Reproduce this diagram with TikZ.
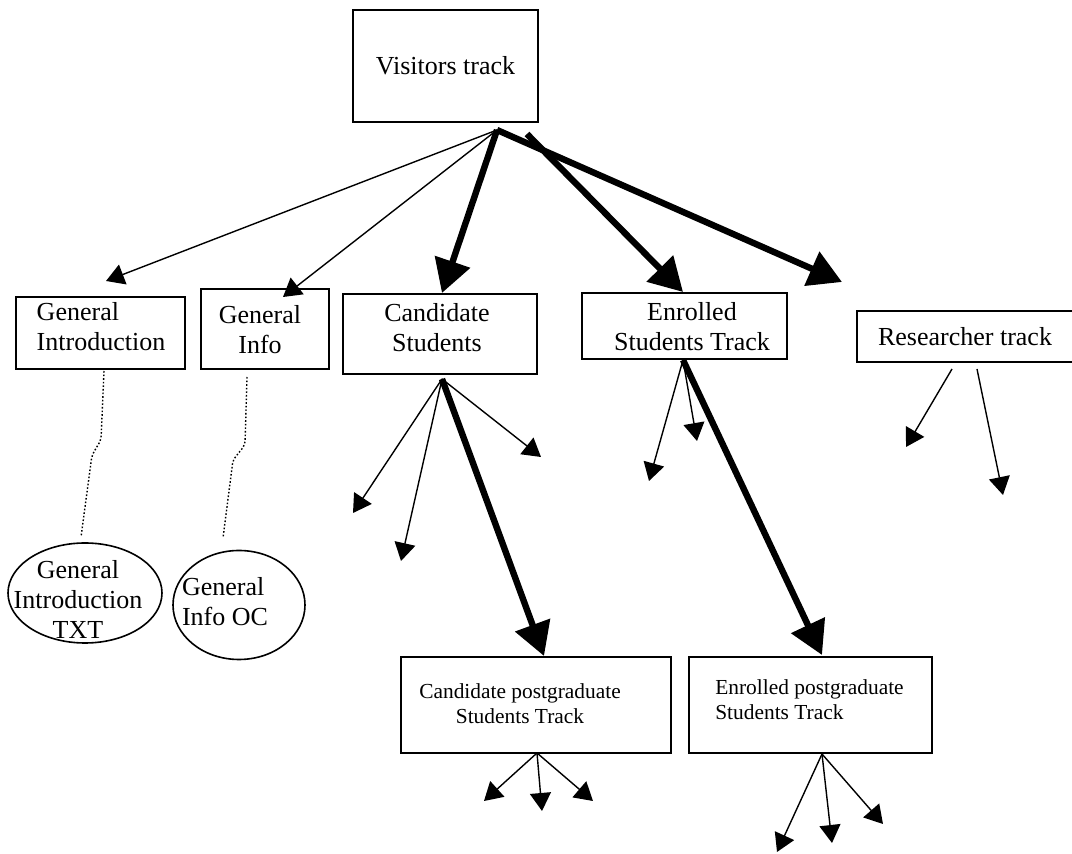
\documentclass[tikz,border=0pt]{standalone}
\usepackage{fontspec}
\setmainfont{Liberation Serif}
\usetikzlibrary{arrows.meta,shapes.geometric}
\begin{document}
\begin{tikzpicture}[x=0.5pt,y=-0.5pt,
  box/.style={draw, line width=0.8pt, rectangle, inner sep=0pt},
  oval/.style={draw, line width=0.8pt, ellipse, inner sep=0pt},
  big/.style={font=\fontsize{13}{15}\selectfont, inner sep=0pt},
  small/.style={font=\fontsize{10.7}{12.5}\selectfont, inner sep=0pt},
  thinarr/.style={line width=0.7pt, -{Triangle[length=9pt,width=10.5pt]}},
  thickarr/.style={line width=3.2pt, -{Triangle[length=16.5pt,width=18pt]}},
  dots/.style={line width=0.7pt, dash pattern=on 0.8pt off 1pt, rounded corners=2pt}]
\useasboundingbox (0,0) rectangle (1072,854);

% boxes
\node[box, big, minimum width=92.5pt, minimum height=56pt] (vis) at (445.5,66) {Visitors track};
\node[box, minimum width=84.5pt, minimum height=36pt] (gi) at (100.5,333) {};
\node[big, align=left] (gitxt) at (101,327) {General\\Introduction};
\node[box, minimum width=64pt, minimum height=40pt] (ginfo) at (265,329) {};
\node[big, align=center] (ginfotxt) at (260,330) {General\\Info};
\node[box, minimum width=97pt, minimum height=40pt] (cand) at (440,334) {};
\node[big, align=center] (candtxt) at (437,327.5) {Candidate\\Students};
\node[box, minimum width=102.5pt, minimum height=33pt] (enr) at (684.5,326) {};
\node[big, align=center] (enrtxt) at (692,327) {Enrolled\\Students Track};
\node[box, big, minimum width=108pt, minimum height=25.5pt] (res) at (965,336.5) {Researcher track};
\node[box, minimum width=135pt, minimum height=48pt] (cpg) at (536,705) {};
\node[small, align=center] (cpgtxt) at (520,704) {Candidate postgraduate\\Students Track};
\node[box, minimum width=121.5pt, minimum height=48pt] (epg) at (810.5,705) {};
\node[small, align=left] (epgtxt) at (809.5,700) {Enrolled postgraduate\\Students Track};

% ellipses
\node[oval, minimum width=77pt, minimum height=50pt] (git) at (85,593) {};
\node[big, align=center] (gittxt) at (78,599.5) {General\\Introduction\\TXT};
\node[oval, minimum width=66pt, minimum height=54.5pt] (gioc) at (239,605) {};
\node[big, align=left] (gioctxt) at (225,602) {General\\Info OC};

% hubs and free ends
\coordinate (vhub) at (497,130);
\coordinate (vhub2) at (527,134);
\coordinate (tgi) at (106,281);
\coordinate (tginfo) at (283,297);
\coordinate (tcand) at (442,293);
\coordinate (tenr) at (683,292);
\coordinate (tres) at (842,282);

\coordinate (chub) at (442,379);
\coordinate (c1) at (353,513);
\coordinate (c2) at (401,561);
\coordinate (c3) at (541,457);
\coordinate (tcpg) at (544,656);

\coordinate (ehub) at (683,360);
\coordinate (e1) at (649,481);
\coordinate (e2) at (697,441);
\coordinate (tepg) at (822,655);

\coordinate (r1s) at (952,369);
\coordinate (r1) at (906,447);
\coordinate (r2s) at (977,369);
\coordinate (r2) at (1003,495);

\coordinate (pghub) at (537,753);
\coordinate (p1) at (484,801);
\coordinate (p2) at (542,811);
\coordinate (p3) at (593,801);

\coordinate (qhub) at (822,754);
\coordinate (q1) at (777,852);
\coordinate (q2) at (832,843);
\coordinate (q3) at (883,824);

\coordinate (d1s) at (104,371);
\coordinate (d1e) at (81,537);
\coordinate (d2s) at (247,377);
\coordinate (d2e) at (223,538);

% connectors from visitors
\draw[thinarr] (vhub) -- (tgi);
\draw[thinarr] (vhub) -- (tginfo);
\draw[thickarr] (vhub) -- (tcand);
\draw[thickarr] (vhub2) -- (tenr);
\draw[thickarr] (vhub) -- (tres);

% candidate students
\draw[thinarr] (chub) -- (c1);
\draw[thinarr] (chub) -- (c2);
\draw[thinarr] (chub) -- (c3);
\draw[thickarr] (chub) -- (tcpg);

% enrolled students
\draw[thinarr] (ehub) -- (e1);
\draw[thinarr] (ehub) -- (e2);
\draw[thickarr] (ehub) -- (tepg);

% researcher
\draw[thinarr] (r1s) -- (r1);
\draw[thinarr] (r2s) -- (r2);

% postgraduate tracks
\draw[thinarr] (pghub) -- (p1);
\draw[thinarr] (pghub) -- (p2);
\draw[thinarr] (pghub) -- (p3);
\draw[thinarr] (qhub) -- (q1);
\draw[thinarr] (qhub) -- (q2);
\draw[thinarr] (qhub) -- (q3);

% dotted links
\draw[dots] (d1s) -- (101,440) -- (92,455) -- (d1e);
\draw[dots] (d2s) -- (245,445) -- (233,460) -- (d2e);
\end{tikzpicture}
\end{document}
